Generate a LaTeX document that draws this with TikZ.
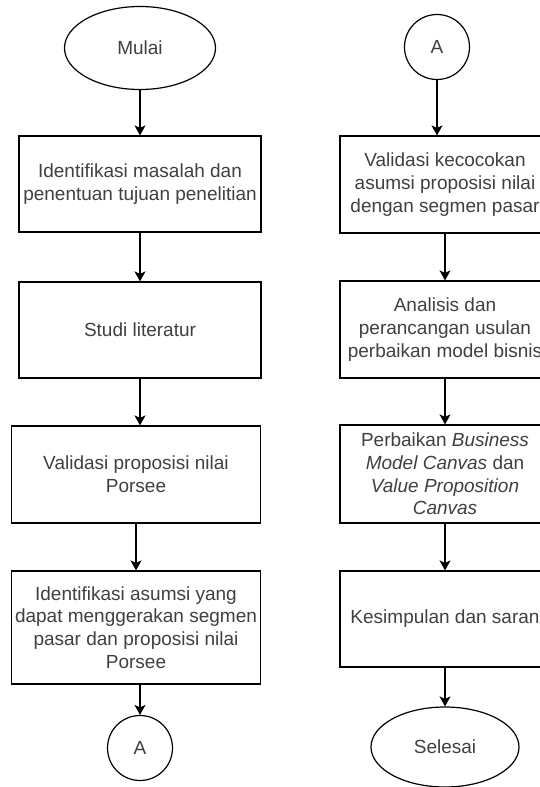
\documentclass[tikz,border=0pt]{standalone}
\usepackage{fontspec}
\setmainfont{Liberation Sans}
\usetikzlibrary{arrows.meta,shapes.geometric}
\newcommand{\flowfont}{\fontsize{19}{22.8}\selectfont}
\tikzset{
  procbox/.style={draw, rectangle, fill=white, inner sep=0pt, align=center,
    text=black!75, font=\flowfont},
  termnode/.style={draw, ellipse, fill=white, inner sep=0pt,
    text=black!75, font=\flowfont},
  connode/.style={draw, circle, fill=white, inner sep=0pt, minimum size=65pt,
    text=black!75, font=\flowfont},
  flowarrow/.style={-{Stealth[length=10pt, width=11pt, inset=2.5pt]}}
}

\begin{document}
\begin{tikzpicture}[x=1pt, y=-1pt, line width=1.2pt]
  \useasboundingbox (0,0) rectangle (540,787);
  \clip (0,0) rectangle (540,787);
  \fill[white] (0,0) rectangle (540,787);
  % Left column
  \node[termnode, minimum width=151pt, minimum height=83pt] (mulai) at (140,48) {Mulai};
  \node[procbox, minimum width=242pt, minimum height=96pt] (identif) at (140,184)
    {Identifikasi masalah dan\\penentuan tujuan penelitian};
  \node[procbox, minimum width=242pt, minimum height=96pt] (studi) at (140,330)
    {Studi literatur};
  \node[procbox, minimum width=249pt, minimum height=97pt] (valprop) at (136,474.5)
    {Validasi proposisi nilai\\Porsee};
  \node[procbox, minimum width=249pt, minimum height=113pt] (asumsi) at (136,627.5)
    {Identifikasi asumsi yang\\dapat menggerakan segmen\\pasar dan proposisi nilai\\Porsee};
  \node[connode] (offA) at (140,748) {A};
  % Right column
  \node[connode] (onA) at (437,47) {A};
  \node[procbox, minimum width=210pt, minimum height=97pt] (valcoc) at (445,184.5)
    {Validasi kecocokan\\asumsi proposisi nilai\\dengan segmen pasar};
  \node[procbox, minimum width=210pt, minimum height=97pt] (analisis) at (445,329.5)
    {Analisis dan\\perancangan usulan\\perbaikan model bisnis};
  \node[procbox, minimum width=210pt, minimum height=98pt] (perbaikan) at (445,474)
    {Perbaikan \textit{Business}\\\textit{Model Canvas} dan\\\textit{Value Proposition}\\\textit{Canvas}};
  \node[procbox, minimum width=210pt, minimum height=96pt] (simpul) at (445,619)
    {Kesimpulan dan saran};
  \node[termnode, minimum width=148pt, minimum height=80pt] (selesai) at (445,747) {Selesai};
  % Connectors
  \draw[flowarrow] (mulai) -- (identif);
  \draw[flowarrow] (identif) -- (studi);
  \draw[flowarrow] (studi.south) -- (studi.south |- valprop.north);
  \draw[flowarrow] (valprop.south) -- (asumsi.north);
  \draw[flowarrow] (asumsi.south -| offA) -- (offA);
  \draw[flowarrow] (onA.south) -- (onA.south |- valcoc.north);
  \draw[flowarrow] (valcoc) -- (analisis);
  \draw[flowarrow] (analisis) -- (perbaikan);
  \draw[flowarrow] (perbaikan) -- (simpul);
  \draw[flowarrow] (simpul) -- (selesai);
\end{tikzpicture}
\end{document}
